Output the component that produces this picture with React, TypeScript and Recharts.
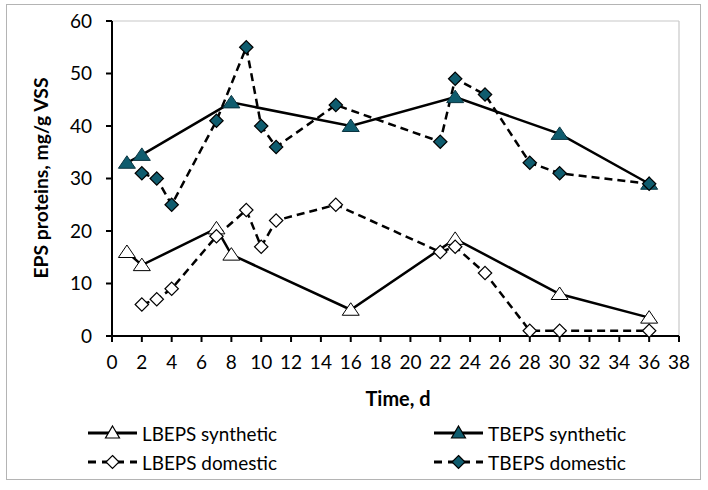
import { LineChart, Line, XAxis, YAxis, ReferenceLine } from 'recharts';

const TEAL = '#0f5c6e';
const FONT = 'Lato, "Open Sans", sans-serif';

// days + values
const lbSynDays = [1, 2, 7, 8, 16, 23, 30, 36];
const lbSynVals = [16, 13.5, 20.5, 15.5, 5, 18.5, 8, 3.5];

const tbSynDays = [1, 2, 8, 16, 23, 30, 36];
const tbSynVals = [33, 34.5, 44.5, 40, 45.5, 38.5, 29];

const lbDomDays = [2, 3, 4, 7, 9, 10, 11, 15, 22, 23, 25, 28, 30, 36];
const lbDomVals = [6, 7, 9, 19, 24, 17, 22, 25, 16, 17, 12, 1, 1, 1];

const tbDomDays = [2, 3, 4, 7, 9, 10, 11, 15, 22, 23, 25, 28, 30, 36];
const tbDomVals = [31, 30, 25, 41, 55, 40, 36, 44, 37, 49, 46, 33, 31, 29];

const xTicks = [0, 2, 4, 6, 8, 10, 12, 14, 16, 18, 20, 22, 24, 26, 28, 30, 32, 34, 36, 38];
const yTicks = [0, 10, 20, 30, 40, 50, 60];

const toRows = (days: number[], vals: number[]) => days.map((d, i) => ({ day: d, v: vals[i] }));

const Triangle = (fill: string) => (props: any) => {
  const { cx, cy } = props;
  if (cx == null || cy == null) return null;
  return (
    <path
      d={`M${cx},${cy - 7} L${cx + 8.5},${cy + 5.5} L${cx - 8.5},${cy + 5.5} Z`}
      fill={fill}
      stroke={fill === '#fff' ? '#000' : '#0a3440'}
      strokeWidth={1}
    />
  );
};

const Diamond = (fill: string) => (props: any) => {
  const { cx, cy } = props;
  if (cx == null || cy == null) return null;
  const s = 6.7;
  return (
    <path
      d={`M${cx},${cy - s} L${cx + s},${cy} L${cx},${cy + s} L${cx - s},${cy} Z`}
      fill={fill}
      stroke="#000"
      strokeWidth={1.2}
    />
  );
};

const LegendItem = ({ x, y, label, len, dashed, marker, fill }: any) => {
  const m = x + 24.5;
  return (
    <g>
      <line x1={x} y1={y} x2={x + 49} y2={y} stroke="#000" strokeWidth={3} strokeDasharray={dashed ? '8 6' : undefined} />
      {marker === 'tri' ? (
        <path d={`M${m},${y - 7} L${m + 7},${y + 5} L${m - 7},${y + 5} Z`} fill={fill} stroke="#000" strokeWidth={1.2} />
      ) : (
        <path d={`M${m},${y - 6.5} L${m + 6.5},${y} L${m},${y + 6.5} L${m - 6.5},${y} Z`} fill={fill} stroke="#000" strokeWidth={1.2} />
      )}
      <text x={x + 54} y={y} dominantBaseline="central" fontSize={20} fontFamily={FONT} fill="#000"
        textLength={len} lengthAdjust="spacingAndGlyphs">
        {label}
      </text>
    </g>
  );
};

export default function App() {
  const tickStyle = { fontSize: 19, fontFamily: FONT, fill: '#000' };
  return (
    <div style={{ position: 'fixed', left: 0, top: 0, width: 708, height: 490, background: '#fff' }}>
      <div
        style={{
          position: 'absolute',
          left: 6,
          top: 4,
          width: 693,
          height: 474,
          border: '1.5px solid #b4b4b4',
        }}
      />
      <div style={{ position: 'absolute', left: 0, top: 0 }}>
        <LineChart width={708} height={490} margin={{ top: 21, right: 29, bottom: 124, left: 0 }}>
          <XAxis
            type="number"
            dataKey="day"
            domain={[0, 38]}
            ticks={xTicks}
            interval={0}
            height={30}
            tick={tickStyle}
            tickSize={6}
            tickMargin={14}
            stroke="#000"
            strokeWidth={2}
            allowDuplicatedCategory={false}
          />
          <YAxis
            type="number"
            domain={[0, 60]}
            ticks={yTicks}
            width={112}
            tick={tickStyle}
            tickSize={6}
            tickMargin={14}
            stroke="#000"
            strokeWidth={2}
          />
          <ReferenceLine y={60} stroke="#c8c8c8" strokeWidth={1.2} />
          <ReferenceLine x={38} stroke="#c8c8c8" strokeWidth={1.2} />
          <Line data={toRows(lbSynDays, lbSynVals)} dataKey="v" stroke="#000" strokeWidth={2.5}
            dot={Triangle('#fff')} isAnimationActive={false} />
          <Line data={toRows(tbSynDays, tbSynVals)} dataKey="v" stroke="#000" strokeWidth={2.5}
            dot={Triangle(TEAL)} isAnimationActive={false} />
          <Line data={toRows(lbDomDays, lbDomVals)} dataKey="v" stroke="#000" strokeWidth={2.5}
            strokeDasharray="8 5" dot={Diamond('#fff')} isAnimationActive={false} />
          <Line data={toRows(tbDomDays, tbDomVals)} dataKey="v" stroke="#000" strokeWidth={2.5}
            strokeDasharray="8 5" dot={Diamond(TEAL)} isAnimationActive={false} />
        </LineChart>
      </div>
      <svg width={708} height={490} style={{ position: 'absolute', left: 0, top: 0, pointerEvents: 'none' }}>
        <text
          x={40}
          y={178}
          transform="rotate(-90 40 178)"
          textAnchor="middle"
          dominantBaseline="central"
          fontSize={19}
          fontWeight="bold"
          fontFamily={FONT}
          fill="#000"
          textLength={201}
          lengthAdjust="spacingAndGlyphs"
        >
          EPS proteins, mg/g VSS
        </text>
        <text x={398} y={398} textAnchor="middle" dominantBaseline="central" fontSize={20}
          fontWeight="bold" fontFamily={FONT} fill="#000" textLength={65} lengthAdjust="spacingAndGlyphs">
          Time, d
        </text>
        <LegendItem x={88} y={433} label="LBEPS synthetic" len={135} marker="tri" fill="#fff" />
        <LegendItem x={434} y={433} label="TBEPS synthetic" len={138} marker="tri" fill={TEAL} />
        <LegendItem x={88} y={462} label="LBEPS domestic" len={135} dashed marker="dia" fill="#fff" />
        <LegendItem x={434} y={462} label="TBEPS domestic" len={138} dashed marker="dia" fill={TEAL} />
      </svg>
    </div>
  );
}
